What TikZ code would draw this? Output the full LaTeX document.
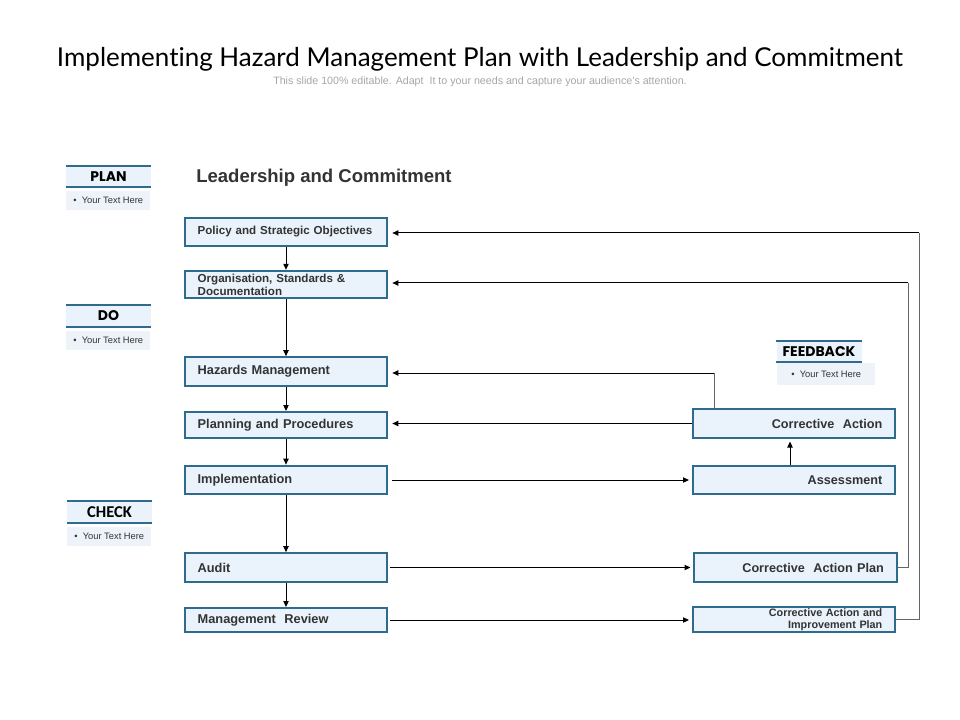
\documentclass[tikz,border=0pt]{standalone}
\usepackage{fontspec}
\setmainfont{Liberation Sans}
\newfontfamily\titlefont{Lato}[Ligatures=NoCommon]
\newfontfamily\hdfont{Poppins}
\newfontfamily\ckfont{Carlito}
\usetikzlibrary{arrows.meta}
\definecolor{boxline}{HTML}{2F6B8C}
\definecolor{boxfill}{HTML}{EAF3FB}
\definecolor{notefill}{HTML}{EEF3F9}
\definecolor{txt}{HTML}{333333}
\definecolor{subgray}{HTML}{A6A6A6}
\tikzset{
  box/.style={draw=boxline, fill=boxfill, line width=1.5pt, inner xsep=9.75pt, inner ysep=0pt,
    text width=132.5pt, minimum height=21.5pt, text=txt, font=\bfseries\fontsize{9.6}{10.5}\selectfont},
  lbox/.style={box, align=left},
  rbox/.style={box, align=right, font=\bfseries\fontsize{9.5}{10.5}\selectfont},
  hdr/.style={fill=boxfill, minimum width=63.75pt, minimum height=15.75pt, inner sep=0pt, font=\hdfont\bfseries\fontsize{10.5}{11}\selectfont},
  hdline/.style={draw=boxline, line width=1.5pt},
  note/.style={fill=notefill, minimum width=63pt, minimum height=14pt, inner xsep=5pt, inner ysep=0pt, align=left, text=txt, font=\fontsize{7}{8}\selectfont},
  arr/.style={-{Triangle[length=4.5pt,width=4pt]}, line width=0.75pt, black},
  link/.style={line width=0.75pt, black!60},
}
\begin{document}
\begin{tikzpicture}[x=0.75pt,y=-0.75pt]
\useasboundingbox (0,0) rectangle (960,720);
\node[anchor=base, inner sep=0pt] (title) at (480,67) {\resizebox{634.5pt}{!}{\titlefont\fontsize{21}{24}\selectfont Implementing Hazard Management Plan with Leadership and Commitment}};
\node[text=subgray, font=\fontsize{8}{9}\selectfont] (sub) at (480,82) {This slide 100\% editable. Adapt \ It to your needs and capture your audience's attention.};
\node[anchor=west, text=txt, font=\bfseries\fontsize{13.9}{15}\selectfont, inner sep=0pt] (lead) at (196,178) {Leadership and Commitment};

% headers
\node[hdr] (plan) at (108.5,176.5) {PLAN};
\draw[hdline] (plan.north west) -- (plan.north east) (plan.south west) -- (plan.south east);
\node[note, anchor=north west] (plannote) at (66,191) {\textbullet\ \ Your Text Here};
\node[hdr] (do) at (108.5,316) {DO};
\draw[hdline] (do.north west) -- (do.north east) (do.south west) -- (do.south east);
\node[note, anchor=north west] (donote) at (66,331) {\textbullet\ \ Your Text Here};
\node[hdr, font=\ckfont\bfseries\fontsize{12.4}{13}\selectfont] (check) at (109.5,512) {CHECK};
\draw[hdline] (check.north west) -- (check.north east) (check.south west) -- (check.south east);
\node[note, anchor=north west] (checknote) at (67,527) {\textbullet\ \ Your Text Here};
\node[hdr] (fb) at (819,351.5) {FEEDBACK};
\draw[hdline] (fb.north west) -- (fb.north east) (fb.south west) -- (fb.south east);
\node[note, anchor=north west, minimum width=73.5pt, minimum height=16.5pt] (fbnote) at (777,363) {\textbullet\ \ Your Text Here};

% left column
\node[lbox, font=\bfseries\fontsize{8.7}{9.6}\selectfont] (policy) at (286,232) {Policy and Strategic Objectives};
\node[lbox, font=\bfseries\fontsize{8.7}{9.6}\selectfont, minimum height=20.5pt] (org) at (286,284.5) {Organisation, Standards \&\\Documentation};
\node[lbox] (haz) at (286,371.5) {Hazards Management};
\node[lbox, minimum height=19.5pt] (plnp) at (286,425) {Planning and Procedures};
\node[lbox] (impl) at (286,480) {Implementation};
\node[lbox] (audit) at (286,567.5) {Audit};
\node[lbox, minimum height=18pt] (rev) at (286,620) {Management\ \ Review};

% right column
\node[rbox] (ca) at (794,423.5) {Corrective\ \ Action};
\node[rbox] (assess) at (794,480) {Assessment};
\node[rbox] (cap) at (795.5,567.5) {Corrective\ \ Action Plan};
\node[rbox, minimum height=19pt, font=\bfseries\fontsize{8.1}{9}\selectfont] (caip) at (794,619.5) {Corrective Action and\\Improvement Plan};

% vertical flow
\draw[arr] (policy.south) -- (org.north);
\draw[arr] (org.south) -- (haz.north);
\draw[arr] (haz.south) -- (plnp.north);
\draw[arr] (plnp.south) -- (impl.north);
\draw[arr] (impl.south) -- (audit.north);
\draw[arr] (audit.south) -- (rev.north);
\coordinate (upx) at (790,0);
\draw[arr, shorten >=2pt] (assess.north -| upx) -- (ca.south -| upx);

% horizontal
\draw[arr, shorten <=3pt, shorten >=2pt] (impl.east) -- (assess.west |- impl.east);
\draw[arr, shorten <=1.5pt, shorten >=2pt] (audit.east) -- (cap.west |- audit.east);
\draw[arr, shorten <=1.5pt, shorten >=2pt] (rev.east) -- (caip.west |- rev.east);
\draw[arr, shorten >=3pt] (ca.west) -- (plnp.east |- ca.west);

% feedback loops
\coordinate (fbx) at (714,373);
\coordinate (r1) at (919,233);
\coordinate (r2) at (908,283);
\draw[link] (ca.north -| fbx) -- (fbx);
\draw[arr, shorten >=3pt] (fbx) -- (haz.east |- fbx);
\draw[link] (cap.east) -- (cap.east -| r2) -- (r2);
\draw[arr, shorten >=3pt] (r2) -- (org.east |- r2);
\draw[link] (caip.east) -- (caip.east -| r1) -- (r1);
\draw[arr, shorten >=3pt] (r1) -- (policy.east |- r1);
\end{tikzpicture}
\end{document}
